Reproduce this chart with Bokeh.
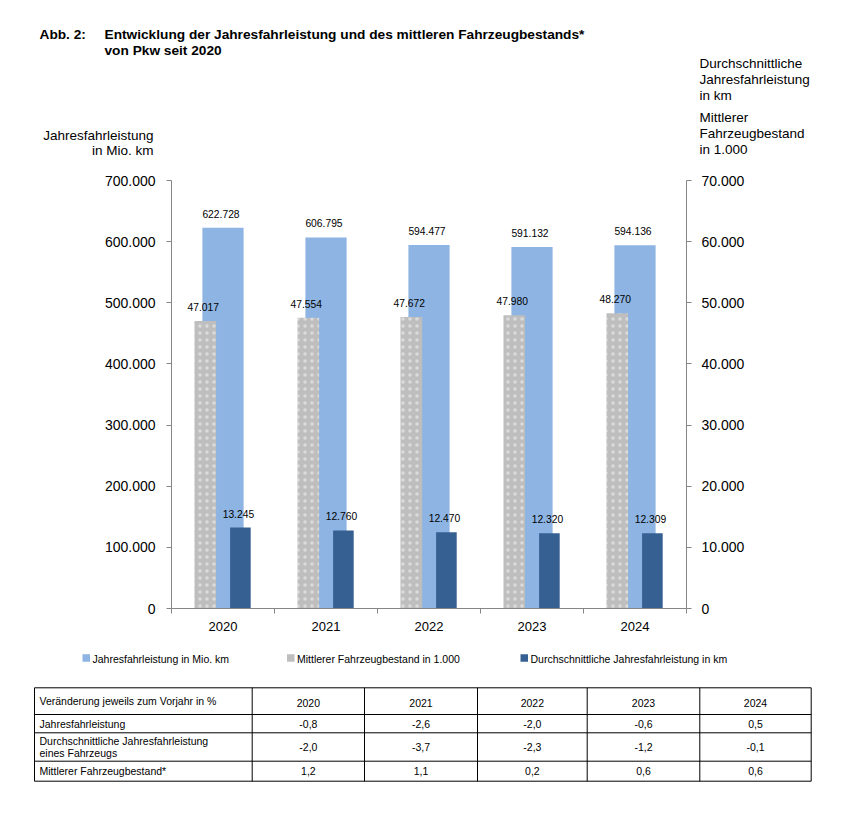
import numpy as np
from bokeh.plotting import figure
from bokeh.models import (Range1d, LinearAxis, FixedTicker, ColumnDataSource, LabelSet)
from bokeh.layouts import column
from bokeh.transform import dodge
from bokeh.core.properties import value
from bokeh.embed import file_html
from bokeh.resources import INLINE

# ---------------- data ----------------
years = ["2020", "2021", "2022", "2023", "2024"]
jahresfahrleistung = [622728, 606795, 594477, 591132, 594136]   # Mio. km (left axis)
fahrzeugbestand = [47017, 47554, 47672, 47980, 48270]           # in 1.000 (right axis)
durchschnitt_km = [13245, 12760, 12470, 12320, 12309]           # km (right axis)
left_ticks = [0, 100000, 200000, 300000, 400000, 500000, 600000, 700000]
right_ticks = [0, 10000, 20000, 30000, 40000, 50000, 60000, 70000]

series_names = ["Jahresfahrleistung in Mio. km",
                "Mittlerer Fahrzeugbestand in 1.000",
                "Durchschnittliche Jahresfahrleistung in km"]

title_lines = ["Entwicklung der Jahresfahrleistung und des mittleren Fahrzeugbestands*",
               "von Pkw seit 2020"]
left_axis_title = ["Jahresfahrleistung", "in Mio. km"]
right_axis_title = ["Durchschnittliche", "Jahresfahrleistung", "in km",
                    "Mittlerer", "Fahrzeugbestand", "in 1.000"]

table_header = "Veränderung jeweils zum Vorjahr in %"
table_rows = ["Jahresfahrleistung",
              "Durchschnittliche Jahresfahrleistung\neines Fahrzeugs",
              "Mittlerer Fahrzeugbestand*"]
chg_jahres = [-0.8, -2.6, -2.0, -0.6, 0.5]
chg_durchschnitt = [-2.0, -3.7, -2.3, -1.2, -0.1]
chg_bestand = [1.2, 1.1, 0.2, 0.6, 0.6]

# ---------------- style ----------------
FONT = "Liberation Sans"
LIGHT = "#8DB4E2"
GRAY = "#BEBEBE"
DARK = "#376092"
AXIS = "#868686"


def de_int(v):
    return f"{v:,}".replace(",", ".")


def de_dec(v):
    return f"{v:.1f}".replace(".", ",")


W = 850
HEAD_H = 168          # header strip: page y 0..168
CHART_BOTTOM = 645    # chart figure: page y 168..645
FOOT_BOTTOM = 792     # legend + table strip: page y 645..792
FL, FR, FT, FB = 171, 686, 180, 608  # frame edges (page pixels)


def strip(y_top, y_bottom):
    f = figure(width=W, height=y_bottom - y_top, output_backend="svg",
               toolbar_location=None,
               x_range=Range1d(0, W), y_range=Range1d(y_bottom, y_top),
               min_border=0, outline_line_color=None,
               x_axis_type=None, y_axis_type=None)
    f.frame_align = False
    f.grid.visible = False
    return f


# ---------------- header (titles) ----------------
h = strip(0, HEAD_H)
tfont = dict(text_font=value(FONT), text_color="black", text_baseline="middle")
h.text(x=[39], y=[34], text=["Abb. 2:"], text_font_size="13.7px",
       text_font_style="bold", **tfont)
h.text(x=[104, 104], y=[34, 50], text=title_lines, text_font_size="13.7px",
       text_font_style="bold", **tfont)
h.text(x=[153, 153], y=[135, 150], text=left_axis_title, text_align="right",
       text_font_size="13.5px", **tfont)
h.text(x=[699] * 6, y=[63, 79, 95, 117, 133, 149], text=right_axis_title,
       text_align="left", text_font_size="13.5px", **tfont)

# ---------------- chart ----------------
n = len(years)
src = ColumnDataSource(dict(
    x=np.arange(n) + 0.5,
    jahres=jahresfahrleistung,
    bestand=fahrzeugbestand,
    km=durchschnitt_km,
    jahres_lbl=[de_int(v) for v in jahresfahrleistung],
    bestand_lbl=[de_int(v) for v in fahrzeugbestand],
    km_lbl=[de_int(v) for v in durchschnitt_km],
))

p = figure(width=W, height=CHART_BOTTOM - HEAD_H, output_backend="svg",
           toolbar_location=None,
           x_range=Range1d(0, n), y_range=Range1d(0, left_ticks[-1]),
           min_border_left=FL, min_border_right=W - FR,
           min_border_top=FT - HEAD_H, min_border_bottom=CHART_BOTTOM - FB,
           outline_line_color=None)
p.frame_align = False
p.grid.visible = False
p.extra_y_ranges = {"right": Range1d(0, right_ticks[-1])}

xa = p.xaxis[0]
xa.ticker = FixedTicker(ticks=list(np.arange(n) + 0.5), minor_ticks=list(range(n + 1)))
xa.major_label_overrides = {float(c): y for c, y in zip(np.arange(n) + 0.5, years)}
xa.axis_line_color = AXIS
xa.major_tick_line_color = None
xa.major_tick_out = 0
xa.major_tick_in = 0
xa.minor_tick_line_color = AXIS
xa.minor_tick_out = 5
xa.minor_tick_in = 0
xa.major_label_text_font = FONT
xa.major_label_text_font_size = "13px"
xa.major_label_text_color = "black"
xa.major_label_standoff = 8

ya = p.yaxis[0]
ya.ticker = FixedTicker(ticks=left_ticks)
ya.major_label_overrides = {t: de_int(t) for t in left_ticks}

yr = LinearAxis(y_range_name="right", ticker=FixedTicker(ticks=right_ticks),
                major_label_overrides={t: de_int(t) for t in right_ticks})
p.add_layout(yr, "right")

for ax, standoff in ((ya, 11), (yr, 10)):
    ax.axis_line_color = AXIS
    ax.major_tick_line_color = AXIS
    ax.major_tick_out = 5
    ax.major_tick_in = 0
    ax.minor_tick_line_color = None
    ax.major_label_text_font = FONT
    ax.major_label_text_font_size = "14px"
    ax.major_label_text_color = "black"
    ax.major_label_standoff = standoff

bar_gray_hatch = dict(hatch_pattern="dot", hatch_color="white", hatch_alpha=0.45,
                      hatch_scale=7, hatch_weight=0.8)

p.vbar(x="x", top="jahres", width=0.4, source=src, fill_color=LIGHT, line_color=None)
p.vbar(x=dodge("x", -0.172), top="bestand", width=0.21, source=src,
       y_range_name="right", fill_color=GRAY, line_color=None, **bar_gray_hatch)
p.vbar(x=dodge("x", 0.169), top="km", width=0.2, source=src,
       y_range_name="right", fill_color=DARK, line_color=None)

lab_common = dict(source=src, text_font=value(FONT), text_font_size="10.3px",
                  text_color="black", text_align="center", text_baseline="middle",
                  y_offset=14, x_offset=-2)
p.add_layout(LabelSet(x="x", y="jahres", text="jahres_lbl", **lab_common))
p.add_layout(LabelSet(x=dodge("x", -0.172), y="bestand", text="bestand_lbl",
                      y_range_name="right", **lab_common))
p.add_layout(LabelSet(x=dodge("x", 0.169), y="km", text="km_lbl",
                      y_range_name="right", **lab_common))

# ---------------- legend + table ----------------
t = strip(CHART_BOTTOM, FOOT_BOTTOM)

# legend: colour swatches and their labels
legend_x = [82, 286.5, 520]   # left edge of each swatch
legend_y = 657.5
t.rect(x=[lx + 3.75 for lx in legend_x], y=[legend_y] * 3, width=7.5, height=7.5,
       fill_color=[LIGHT, GRAY, DARK], line_color=None)
t.text(x=[lx + 10 for lx in legend_x], y=[legend_y + 0.5] * 3, text=series_names,
       text_align="left", text_font_size="10.5px", **tfont)

col_edges = [34, 251.7, 364, 477, 586.7, 699.3, 810.7]
row_edges = [687.3, 714, 732.3, 760.7, 780.7]
t.segment(x0=[col_edges[0]] * len(row_edges), x1=[col_edges[-1]] * len(row_edges),
          y0=row_edges, y1=row_edges, line_color="black", line_width=1)
t.segment(x0=col_edges, x1=col_edges, y0=[row_edges[0]] * len(col_edges),
          y1=[row_edges[-1]] * len(col_edges), line_color="black", line_width=1)

col_centers = [(a + b) / 2 for a, b in zip(col_edges[1:-1], col_edges[2:])]
row_centers = [(a + b) / 2 for a, b in zip(row_edges[:-1], row_edges[1:])]
tcommon = dict(text_font=value(FONT), text_font_size="10.5px", text_color="black",
               text_baseline="middle", text_line_height=1.05)

t.text(x=[col_edges[0] + 5], y=[row_centers[0]], text=[table_header],
       text_align="left", **tcommon)
t.text(x=col_centers, y=[row_centers[0] + 2] * n, text=years, text_align="center", **tcommon)
t.text(x=[col_edges[0] + 5] * len(table_rows), y=row_centers[1:], text=table_rows,
       text_align="left", **tcommon)
for vals, yc in zip((chg_jahres, chg_durchschnitt, chg_bestand), row_centers[1:]):
    t.text(x=col_centers, y=[yc] * n, text=[de_dec(v) for v in vals],
           text_align="center", **tcommon)

layout = column(h, p, t, spacing=0)
open("out.html", "w").write(file_html(layout, INLINE))
